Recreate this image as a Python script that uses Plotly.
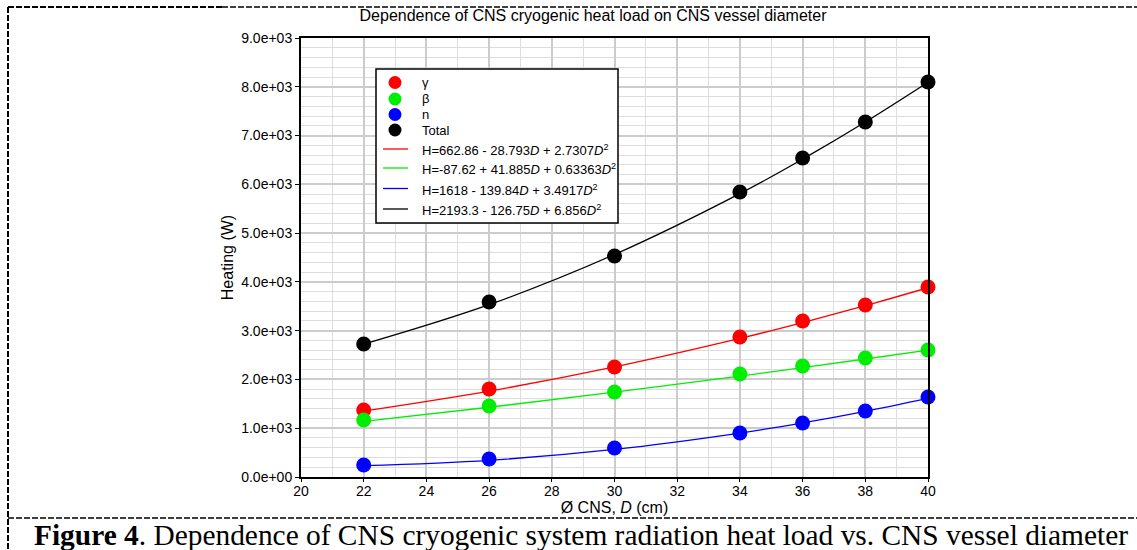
import plotly.graph_objects as go

# ---- data ----
diam = [22, 26, 30, 34, 36, 38, 40]
gamma_pts = [1373, 1804, 2255, 2870, 3198, 3526, 3895]
beta_pts = [1168, 1455, 1743, 2112, 2276, 2440, 2604]
n_pts = [246, 369, 594, 902, 1107, 1353, 1640]
total_pts = [2727, 3588, 4531, 5843, 6540, 7278, 8098]

# fit-curve values at the same diameters (from the legend equations)
gamma_fit = [1351.1, 1760.2, 2256.7, 2840.6, 3165.3, 3511.9, 3880.3]
beta_fit = [1140.5, 1429.7, 1739.2, 2069.0, 2241.4, 2419.0, 2601.6]
n_fit = [231.5, 342.6, 565.3, 899.9, 1109.0, 1346.1, 1611.1]
total_fit = [2723.1, 3532.5, 4561.2, 5809.3, 6515.7, 7276.9, 8092.9]

marker_names = ["γ", "β", "n", "Total"]
fit_names = [
    "H=662.86 - 28.793<i>D</i> + 2.7307<i>D</i><sup>2</sup>",
    "H=-87.62 + 41.885<i>D</i> + 0.63363<i>D</i><sup>2</sup>",
    "H=1618 - 139.84<i>D</i> + 3.4917<i>D</i><sup>2</sup>",
    "H=2193.3 - 126.75<i>D</i> + 6.856<i>D</i><sup>2</sup>",
]
colors = ["#ff0000", "#00ee00", "#0000ff", "#000000"]

y_tickvals = [0, 1000, 2000, 3000, 4000, 5000, 6000, 7000, 8000, 9000]
y_ticktext = ["0.0e+00", "1.0e+03", "2.0e+03", "3.0e+03", "4.0e+03",
              "5.0e+03", "6.0e+03", "7.0e+03", "8.0e+03", "9.0e+03"]
x_tickvals = [20, 22, 24, 26, 28, 30, 32, 34, 36, 38, 40]

title_text = "Dependence of CNS cryogenic heat load on CNS vessel diameter"
caption = ("<b>Figure 4</b>. Dependence of CNS cryogenic system radiation "
           "heat load vs. CNS vessel diameter")

# ---- figure ----
W, H = 1137, 550
L, R, T, B = 301, 928, 38, 477  # plot area in px


def px(x):
    return (x - L) / (R - L)


def py(y):
    return (B - y) / (B - T)


fig = go.Figure()

pts = [gamma_pts, beta_pts, n_pts, total_pts]
fits = [gamma_fit, beta_fit, n_fit, total_fit]

for i in range(4):
    fig.add_trace(go.Scatter(
        x=diam, y=fits[i], mode="lines", name=fit_names[i],
        line=dict(color=colors[i], width=1.3, shape="spline"),
        showlegend=False, hoverinfo="skip",
    ))
for i in range(4):
    fig.add_trace(go.Scatter(
        x=diam, y=pts[i], mode="markers", name=marker_names[i],
        marker=dict(color=colors[i], size=15),
        showlegend=False, cliponaxis=False,
    ))

font_fam = "Liberation Sans, Arial, sans-serif"

fig.update_layout(
    width=W, height=H,
    margin=dict(l=L, r=W - R, t=T, b=H - B),
    paper_bgcolor="white", plot_bgcolor="white",
    font=dict(family=font_fam, size=14, color="black"),
    title=dict(text=title_text, x=px(593), xref="paper", xanchor="center",
               y=1 - 15 / H, yref="container", yanchor="middle",
               font=dict(size=16, family=font_fam)),
    showlegend=False,
    xaxis=dict(range=[20, 40], tickvals=x_tickvals,
               showline=True, linecolor="black", linewidth=2, mirror=True,
               ticks="outside", ticklen=3, tickcolor="black",
               ticklabelstandoff=-3,
               showgrid=True, gridcolor="#cccccc", gridwidth=2,
               minor=dict(dtick=1, showgrid=True, gridcolor="#dddddd", gridwidth=1),
               zeroline=False,
               title=dict(text="Ø CNS, <i>D</i> (cm)", standoff=2,
                          font=dict(size=16)),
               tickfont=dict(size=14)),
    yaxis=dict(range=[0, 9000], tickvals=y_tickvals, ticktext=y_ticktext,
               showline=True, linecolor="black", linewidth=2, mirror=True,
               ticks="outside", ticklen=4, tickcolor="black",
               showgrid=True, gridcolor="#cccccc", gridwidth=2,
               minor=dict(dtick=200, showgrid=True, gridcolor="#dddddd", gridwidth=1),
               zeroline=False,
               title=dict(text="Heating (W)", standoff=4, font=dict(size=16)),
               tickfont=dict(size=14)),
)

dash = "6px,2px"
shapes = [
    dict(type="line", xref="paper", yref="paper", x0=px(8), x1=px(222),
         y0=py(7), y1=py(7), line=dict(color="black", width=2, dash=dash)),
    dict(type="line", xref="paper", yref="paper", x0=px(222), x1=px(1137),
         y0=py(7), y1=py(7), line=dict(color="black", width=1.5, dash=dash)),
    dict(type="line", xref="paper", yref="paper", x0=px(8), x1=px(8),
         y0=py(7), y1=py(550), line=dict(color="black", width=2, dash=dash)),
    dict(type="line", xref="paper", yref="paper", x0=px(8), x1=px(1137),
         y0=py(518), y1=py(518), line=dict(color="black", width=1.5, dash=dash)),
]

# ---- legend box (drawn manually to match compact spacing) ----
shapes.append(dict(type="rect", xref="paper", yref="paper",
                   x0=px(376), x1=px(618), y0=py(223), y1=py(69),
                   line=dict(color="black", width=1.5), fillcolor="white",
                   layer="above"))
marker_rows = [82.5, 99, 114.5, 130]
line_rows = [149, 168, 188.5, 209]
annotations = []
for i in range(4):
    yc = marker_rows[i]
    shapes.append(dict(type="circle", xref="paper", yref="paper",
                       x0=px(395 - 6.5), x1=px(395 + 6.5),
                       y0=py(yc + 6.5), y1=py(yc - 6.5),
                       line=dict(width=0), fillcolor=colors[i], layer="above"))
    annotations.append(dict(text=marker_names[i], xref="paper", yref="paper",
                            x=px(420), y=py(yc), xanchor="left", yanchor="middle",
                            showarrow=False, font=dict(size=13, family=font_fam)))
for i in range(4):
    yc = line_rows[i]
    shapes.append(dict(type="line", xref="paper", yref="paper",
                       x0=px(383), x1=px(408), y0=py(yc), y1=py(yc),
                       line=dict(color=colors[i], width=1.3), layer="above"))
    annotations.append(dict(text=fit_names[i], xref="paper", yref="paper",
                            x=px(420), y=py(yc + 1), xanchor="left", yanchor="middle",
                            showarrow=False, font=dict(size=13, family=font_fam)))

annotations.append(dict(text=caption, xref="paper", yref="paper",
                        x=px(32), y=py(535), xanchor="left", yanchor="middle",
                        showarrow=False,
                        font=dict(family="Liberation Serif, Times New Roman, serif",
                                  size=29.4, color="black")))

fig.update_layout(shapes=shapes, annotations=annotations)

fig.write_html("out.html")
